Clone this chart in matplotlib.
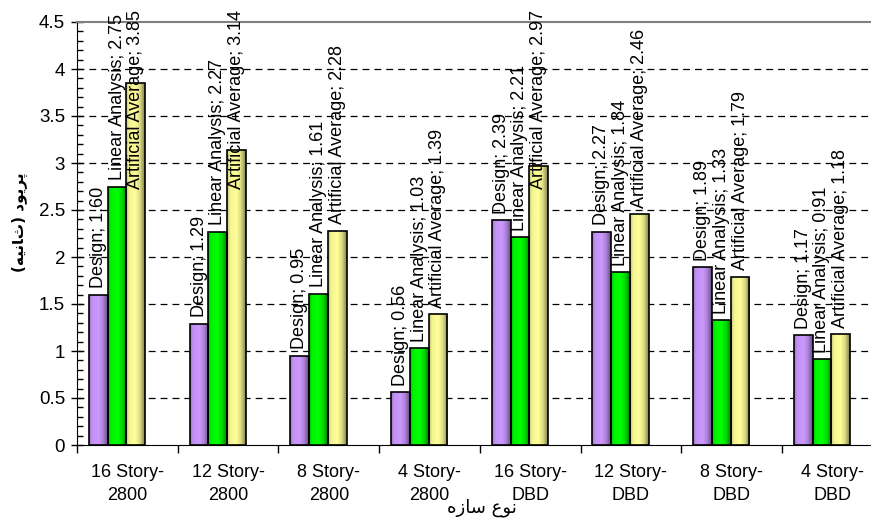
import matplotlib
matplotlib.use("Agg")
import matplotlib.pyplot as plt
import numpy as np
from matplotlib.ticker import MultipleLocator, FuncFormatter

plt.rcParams["font.family"] = ["Liberation Sans", "DejaVu Sans"]

categories = [
    "16 Story-\n2800", "12 Story-\n2800", "8 Story-\n2800", "4 Story-\n2800",
    "16 Story-\nDBD", "12 Story-\nDBD", "8 Story-\nDBD", "4 Story-\nDBD",
]
design = [1.60, 1.29, 0.95, 0.56, 2.39, 2.27, 1.89, 1.17]
linear = [2.75, 2.27, 1.61, 1.03, 2.21, 1.84, 1.33, 0.91]
artificial = [3.85, 3.14, 2.28, 1.39, 2.97, 2.46, 1.79, 1.18]

series = [
    ("Design", design, (0.80, 0.60, 1.00)),
    ("Linear Analysis", linear, (0.00, 1.00, 0.00)),
    ("Artificial Average", artificial, (1.00, 1.00, 0.60)),
]

# pre-shaped Persian labels (visual order)
ylabel_fa = "(\uFEEA\uFBFF\uFEE7\uFE8E\uFE99) \uFEA9\uFEEE\uFBFE\uFEAE\uFB58"
xlabel_fa = "\uFEE9\uFEAF\uFE8E\uFEB3 \uFEC9\uFEEE\uFEE7"

W, H, DPI = 871, 519, 100
fig = plt.figure(figsize=(W / DPI, H / DPI), dpi=DPI)
cat_px = 100.7
ax = fig.add_axes([77 / W, 74 / H, 8 * cat_px / W, 423 / H])

bar_w = 0.186
start = 0.119
idx = np.arange(len(categories))

# cylinder-like shading across each bar
shade_t = [0.0, 0.15, 0.5, 0.75, 1.0]
shade_f = [0.75, 0.95, 1.0, 0.85, 0.5]
tt = np.linspace(0, 1, 64)
shade = np.interp(tt, shade_t, shade_f)

labels = []
for j, (name, vals, base) in enumerate(series):
    xs = idx + start + bar_w * (j + 0.5)
    bars = ax.bar(xs, vals, bar_w, facecolor="none", edgecolor="black",
                  linewidth=1.2, zorder=4)
    grad = np.clip(np.outer(shade, base), 0, 1)[None, :, :]
    for b, v, x in zip(bars, vals, xs):
        im = ax.imshow(grad, extent=[x - bar_w / 2, x + bar_w / 2, 0, v],
                       aspect="auto", interpolation="bilinear", zorder=3)
        im.set_clip_path(b)
        t = ax.annotate(f"{name}; {v:.2f}", xy=(x, v), xytext=(0, 4.5),
                        textcoords="offset points", rotation=90,
                        ha="center", va="bottom", fontsize=13, zorder=5,
                        annotation_clip=False)
        labels.append(t)

ax.set_xlim(0, len(categories))
ax.set_ylim(0, 4.5)

ax.yaxis.set_major_locator(MultipleLocator(0.5))
ax.yaxis.set_minor_locator(MultipleLocator(0.1))
ax.yaxis.set_major_formatter(FuncFormatter(lambda v, _: f"{v:g}"))
ax.tick_params(axis="y", which="major", direction="inout", length=9,
               width=1, labelsize=13.5, pad=4)
ax.tick_params(axis="y", which="minor", direction="in", length=4, width=1)

ax.set_xticks(idx, minor=False)
ax.set_xticklabels([])
ax.set_xticks(idx + 0.5, minor=True)
ax.set_xticklabels(categories, minor=True, fontsize=13, linespacing=1.45)
ax.tick_params(axis="x", which="major", direction="out", length=6, width=1)
ax.tick_params(axis="x", which="minor", length=0, pad=14)

for y in np.arange(0.5, 4.5, 0.5):
    ax.axhline(y, color="black", linewidth=0.9, linestyle=(0, (5.5, 4)), zorder=1)

ax.spines["left"].set_color("black")
ax.spines["bottom"].set_color("black")
ax.spines["top"].set_color("#808080")
ax.spines["top"].set_linewidth(1.5)
ax.spines["right"].set_visible(False)

fig.text(20 / W, 1 - 222 / H, ylabel_fa, rotation=90, ha="center", va="center",
         fontsize=11, fontweight="bold", family="DejaVu Sans")
fig.text(482 / W, 1 - 508 / H, xlabel_fa, ha="center", va="center",
         fontsize=13, family="DejaVu Sans")

# keep value labels inside the figure: push tall ones down
fig.canvas.draw()
renderer = fig.canvas.get_renderer()
top_limit = fig.bbox.height - 10
for t in labels:
    bb = t.get_window_extent(renderer)
    if bb.y1 > top_limit:
        shift = (bb.y1 - top_limit) * 72 / fig.dpi
        t.xyann = (0, 4.5 - shift)

fig.savefig("out.png", dpi=DPI)
